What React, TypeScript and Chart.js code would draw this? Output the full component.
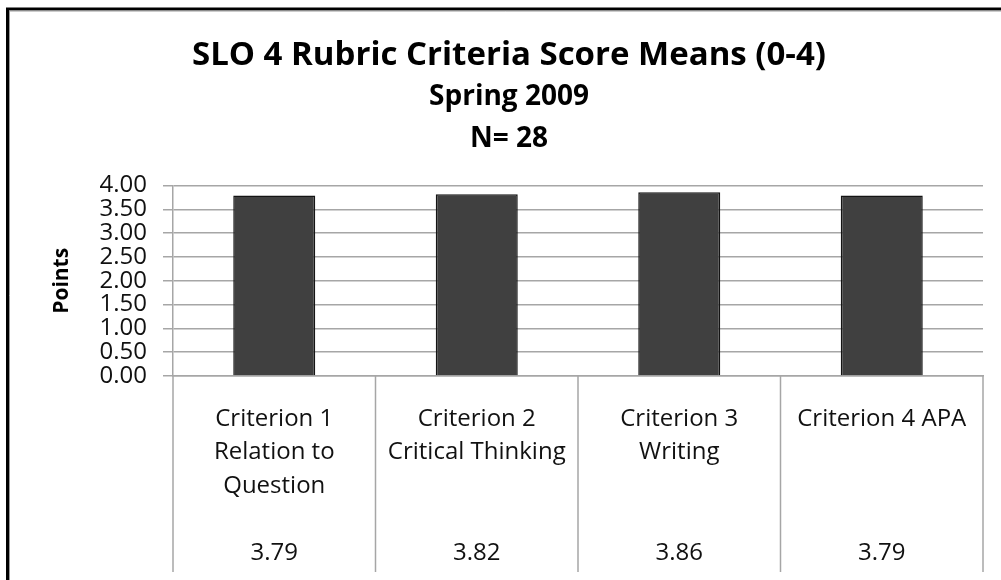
import React, { useEffect, useRef } from "react";
import { Chart, registerables } from "chart.js";

Chart.register(...registerables);

const categories: string[][] = [
  ["Criterion 1", "Relation to", "Question"],
  ["Criterion 2", "Critical Thinking"],
  ["Criterion 3", "Writing"],
  ["Criterion 4 APA"],
];
const means: number[] = [3.79, 3.82, 3.86, 3.79];
const yTicks: number[] = [0, 0.5, 1, 1.5, 2, 2.5, 3, 3.5, 4];
const titleText = "SLO 4 Rubric Criteria Score Means (0-4)";
const subtitleLines = ["Spring 2009", "N= 28"];
const yTitle = "Points";

const FONT = "'Open Sans', 'DejaVu Sans', sans-serif";
const GRID = "#a6a6a6";

// table labels: category lines padded to 4 rows, then the value row
const tableLabels = categories.map((lines, i) => {
  const rows = [...lines];
  while (rows.length < 4) rows.push("");
  rows.push(means[i].toFixed(2));
  return rows;
});

const framePlugin = {
  id: "frame",
  beforeDraw(chart: any) {
    const ctx = chart.ctx;
    ctx.save();
    ctx.fillStyle = "#ffffff";
    ctx.fillRect(0, 0, chart.width, chart.height);
    ctx.strokeStyle = "#000000";
    ctx.lineWidth = 3;
    ctx.strokeRect(7.5, 9, chart.width + 20, chart.height + 20);
    ctx.strokeStyle = "#9a9a9a";
    ctx.lineWidth = 1;
    ctx.beginPath();
    ctx.moveTo(9.5, chart.height);
    ctx.lineTo(9.5, 11);
    ctx.lineTo(chart.width, 11);
    ctx.stroke();
    ctx.restore();
  },
};

const tablePlugin = {
  id: "dataTable",
  afterDraw(chart: any) {
    const ctx = chart.ctx;
    const x = chart.scales.x;
    const area = chart.chartArea;
    const n = x.ticks.length;
    const bottom = 572;
    ctx.save();
    ctx.strokeStyle = GRID;
    ctx.lineWidth = 1.5;
    for (let i = 0; i <= n; i++) {
      let px: number;
      if (i === 0) px = area.left;
      else if (i === n) px = area.right;
      else px = (x.getPixelForTick(i - 1) + x.getPixelForTick(i)) / 2;
      ctx.beginPath();
      ctx.moveTo(px, area.bottom);
      ctx.lineTo(px, bottom);
      ctx.stroke();
    }
    ctx.restore();
  },
};

export default function App() {
  const canvasRef = useRef<HTMLCanvasElement | null>(null);

  useEffect(() => {
    if (!canvasRef.current) return;
    const chart = new Chart(canvasRef.current, {
      type: "bar",
      data: {
        labels: tableLabels,
        datasets: [
          {
            data: means,
            backgroundColor: "#404040",
            borderColor: "#141414",
            borderWidth: 1.5,
            categoryPercentage: 1,
            barPercentage: 0.405,
          },
        ],
      },
      options: {
        animation: false,
        responsive: true,
        maintainAspectRatio: false,
        layout: { padding: { left: 35, right: 18, top: 0, bottom: 0 } },
        plugins: {
          legend: { display: false },
          tooltip: { enabled: false },
          title: {
            display: true,
            text: titleText,
            color: "#000",
            font: { family: FONT, size: 33, weight: "bold", lineHeight: 1.2 },
            padding: { top: 36, bottom: 0 },
          },
          subtitle: {
            display: true,
            text: subtitleLines,
            color: "#000",
            font: { family: FONT, size: 28, weight: "bold", lineHeight: "42px" },
            padding: { top: 0, bottom: 26 },
          },
        },
        scales: {
          x: {
            grid: { display: false, drawTicks: false },
            border: { display: true, color: GRID, width: 1.5 },
            afterFit: (scale: any) => {
              scale.height = 204;
            },
            ticks: {
              color: "#111",
              font: { family: FONT, size: 24, lineHeight: "33.5px" },
              padding: 26,
              maxRotation: 0,
              autoSkip: false,
            },
          },
          y: {
            min: 0,
            max: 4,
            afterBuildTicks: (scale: any) => {
              scale.ticks = yTicks.map((v) => ({ value: v }));
            },
            afterFit: (scale: any) => {
              scale.width = 138;
            },
            grid: {
              color: GRID,
              lineWidth: 1.5,
              tickLength: 10,
              drawTicks: true,
            },
            border: { display: true, color: GRID, width: 1.5 },
            ticks: {
              color: "#111",
              autoSkip: false,
              font: { family: FONT, size: 24, lineHeight: 1 },
              padding: 16,
              callback: (v: any) => Number(v).toFixed(2),
            },
            title: {
              display: true,
              text: yTitle,
              color: "#000",
              font: { family: FONT, size: 21, weight: "bold", lineHeight: 1.2 },
              padding: { top: 14, bottom: 0 },
            },
          },
        },
      },
      plugins: [framePlugin, tablePlugin],
    });
    return () => chart.destroy();
  }, []);

  return (
    <div style={{ position: "absolute", left: 0, top: 0, width: 1001, height: 580 }}>
      <canvas ref={canvasRef} />
    </div>
  );
}
